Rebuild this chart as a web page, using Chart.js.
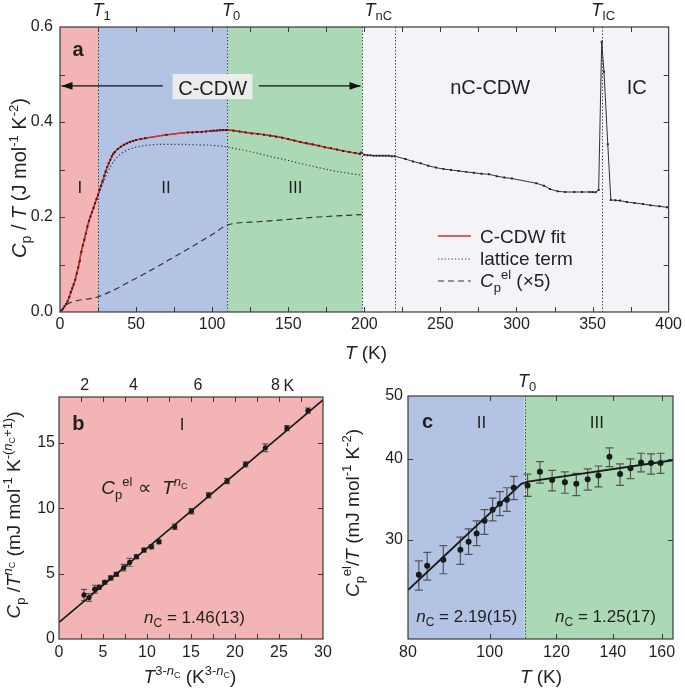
<!DOCTYPE html>
<html><head><meta charset="utf-8">
<script src="https://cdn.jsdelivr.net/npm/chart.js@4.4.1/dist/chart.umd.min.js"></script>
<style>
html,body{margin:0;padding:0;background:#fff;}
#wrap{position:relative;width:685px;height:690px;overflow:hidden;}
canvas{position:absolute;}
</style></head><body>
<div id="wrap">
<canvas id="ca" width="685" height="370" style="left:0;top:0"></canvas>
<canvas id="cb" width="340" height="345" style="left:0;top:345px"></canvas>
<canvas id="cc" width="345" height="345" style="left:340px;top:345px"></canvas>
</div>
<script>
// ---------- Panel a data ----------
const aDataT = [1,2,3,4,5,6,7,8,9,10,
 11,12,13,14,15,16,17,18,19,20,
 21,22,23,24,25,26,27,28,29,30,
 31,32,33,34,35,36,38,40,42,44,
 46,48,50,53,56,70,84,87,90,93,
 96,99,101,103,105,107,109,110,114,118,
 122,126,130,134,138,142,146,150,154,158,
 162,166,170,174,178,182,186,190,194,197,
 198,200,202,204,206,208,210,212,214,216,
 218,220,227,232,237,242,247,252,257,262,
 267,272,277,282,287,292,297,313,318,322,
 327,332,338,343,348,350,352,354,356,357.5,
 360,362,365,368,372.5,377.6,383,388,394,399];
const aDataV = [.003,.007,.012,.017,.022,.031,.042,.050,.058,.068,
 .081,.094,.107,.127,.140,.152,.165,.180,.192,.201,
 .210,.219,.229,.238,.247,.257,.266,.276,.287,.296,
 .305,.313,.320,.328,.333,.337,.343,.348,.352,.355,
 .358,.360,.362,.364,.366,.373,.378,.378,.379,.379,
 .380,.381,.382,.382,.383,.383,.383,.383,.382,.380,
 .378,.376,.375,.373,.371,.369,.367,.364,.361,.358,
 .356,.353,.350,.347,.345,.342,.339,.337,.335,.333,
 .336,.331,.330,.330,.329,.329,.329,.329,.329,.329,
 .328,.328,.322,.317,.313,.308,.304,.301,.299,.297,
 .295,.293,.291,.290,.286,.283,.281,.271,.266,.259,
 .254,.2526,.2526,.2526,.2526,.2524,.252,.2568,.569,.506,
 .353,.2358,.2351,.2345,.2316,.2295,.2274,.2246,.2225,.2204];
const aFitT = [0,2,5,8,10,12,14,16,18,20,22,25,28,30,33,36,40,45,50,60,70,80,90,100,110,120,130,140,150,160,170,180,190,198];
const aFitV = [0,.007,.022,.05,.068,.094,.127,.152,.18,.201,.219,.247,.276,.296,.32,.337,.348,.357,.362,.368,.373,.377,.379,.381,.383,.379,.375,.371,.364,.356,.35,.343,.337,.332];
const aLatT = [0,5,10,15,20,25,28,30,33,36,40,45,50,60,70,80,90,100,110,120,130,140,150,160,170,180,190,198];
const aLatV = [0,.022,.067,.14,.2,.246,.27,.285,.305,.32,.333,.342,.347,.352,.353,.353,.352,.351,.347,.341,.334,.326,.319,.311,.304,.297,.292,.288];
const aElT = [0,3,7,25,50,75,100,110,130,150,170,198];
const aElV = [0,.012,.02,.032,.071,.116,.163,.183,.19,.195,.2,.205];
const aRegionEdges = [0,25,110,198.5,400];
const aTransitions = [25,110,198.5,220,356];
const aXTicks = [0,50,100,150,200,250,300,350,400];
const aYTicks = [0,0.2,0.4,0.6];

// ---------- Panel b data ----------
const bNc = 1.46;
const bX = [2.84,3.41,4.06,4.55,5.19,5.88,6.52,7.35,8.03,8.8,9.66,10.5,11.36,13.15,15.04,17.0,19.1,21.2,23.45,25.9,28.3];
const bY = [3.37,3.17,3.81,3.96,4.34,4.67,4.95,5.45,5.86,6.29,6.80,7.05,7.43,8.58,9.77,10.99,12.08,13.35,14.62,16.12,17.46];
const bErr = [0.43,0.3,0.3,0.15,0.15,0.15,0.15,0.25,0.3,0.15,0.15,0.15,0.15,0.2,0.2,0.2,0.2,0.2,0.3,0.2,0.2];
const bFitX = [0,30];
const bFitY = [1.27,18.28];
const bXTicks = [0,5,10,15,20,25,30];
const bYTicks = [0,5,10,15];
const bTopT = [2,4,6,8];
const bTopLabels = ['2','4','6','8'];

// ---------- Panel c data ----------
const cT = [82.4,84.3,88.1,92.3,94.4,96.5,98.6,100.8,102.8,104.8,106.8,110.9,114.7,118.6,122.8,126.7,130.7,134.6,138.7,142.8,146.9,151.2,155.4,159.5];
const cV = [26.5,27.36,27.95,28.96,29.8,30.7,32.1,33.4,34.1,34.6,36.1,36.4,38.2,37.1,36.8,36.6,37.2,37.7,40.3,37.9,38.7,39.5,39.4,39.4];
const cHi = [27.85,28.7,29.4,30.3,31.2,32.1,33.4,34.8,35.6,36.1,37.6,37.9,39.6,38.4,38.2,38.0,38.6,39.0,41.6,39.3,40.0,40.8,40.7,40.8];
const cLo = [25.1,26.0,26.6,27.5,28.5,29.4,30.6,32.1,32.7,33.2,34.6,35.0,36.7,35.7,35.4,35.1,35.8,36.2,38.9,36.4,37.3,38.2,37.9,38.0];
const cFitT = [80,109,111,165];
const cFitV = [25.1,36.6,36.9,39.8];
const cRegionEdges = [80,110,165];
const cXTicks = [80,100,120,140,160];
const cYTicks = [30,40,50];

// ---------- helpers ----------
const FONT = "'Liberation Sans', Arial, Helvetica, sans-serif";
const INK = '#231f20';
const PINK = '#f2b4b4', BLUE = '#b3c3e4', GREEN = '#acd9b5', GREY = '#f3f3f8';
Chart.defaults.font.family = FONT;
Chart.defaults.color = INK;
const pts = (xs, ys) => xs.map((x, i) => ({x, y: ys[i]}));
const P = (t, s, st, dy) => ({t, s, st: st || '', dy: dy || 0});
const fnt = p => (p.st === 'i' ? 'italic ' : p.st === 'b' ? 'bold ' : '') + p.s + 'px ' + FONT;
function rich(ctx, parts, x, y, align, rot) {
  ctx.save(); ctx.translate(x, y); if (rot) ctx.rotate(rot);
  let w = 0;
  for (const p of parts) { ctx.font = fnt(p); p.w = ctx.measureText(p.t).width; w += p.w; }
  let cx = align === 'left' ? 0 : align === 'right' ? -w : -w / 2;
  ctx.fillStyle = INK; ctx.textBaseline = 'alphabetic'; ctx.textAlign = 'left';
  for (const p of parts) { ctx.font = fnt(p); ctx.fillText(p.t, cx, p.dy); cx += p.w; }
  ctx.restore();
}
function frame(ctx, ca) {
  ctx.save(); ctx.strokeStyle = '#3a3a3a'; ctx.lineWidth = 1.2;
  ctx.strokeRect(ca.left, ca.top, ca.width, ca.height); ctx.restore();
}
function xTicksIn(ctx, ca, sc, vals, len) {
  ctx.save(); ctx.strokeStyle = '#3a3a3a'; ctx.lineWidth = 1; ctx.beginPath();
  for (const v of vals) { const p = Math.round(sc.getPixelForValue(v)) + 0.5;
    ctx.moveTo(p, ca.bottom); ctx.lineTo(p, ca.bottom - len);
    ctx.moveTo(p, ca.top); ctx.lineTo(p, ca.top + len); }
  ctx.stroke(); ctx.restore();
}
function yTicksIn(ctx, ca, sc, vals, len) {
  ctx.save(); ctx.strokeStyle = '#3a3a3a'; ctx.lineWidth = 1; ctx.beginPath();
  for (const v of vals) { const p = Math.round(sc.getPixelForValue(v)) + 0.5;
    ctx.moveTo(ca.left, p); ctx.lineTo(ca.left + len, p);
    ctx.moveTo(ca.right, p); ctx.lineTo(ca.right - len, p); }
  ctx.stroke(); ctx.restore();
}
function vDotted(ctx, ca, sc, vals) {
  ctx.save(); ctx.strokeStyle = '#333'; ctx.lineWidth = 1; ctx.setLineDash([1.3, 2]);
  ctx.beginPath();
  for (const v of vals) { const p = Math.round(sc.getPixelForValue(v)) + 0.5;
    ctx.moveTo(p, ca.top); ctx.lineTo(p, ca.bottom); }
  ctx.stroke(); ctx.restore();
}
function errBars(ctx, xs, ys, lo, hi, sx, sy, cap) {
  ctx.save(); ctx.strokeStyle = '#555'; ctx.lineWidth = 1.2; ctx.beginPath();
  xs.forEach((x, i) => {
    const px = sx.getPixelForValue(x), p1 = sy.getPixelForValue(lo[i]), p2 = sy.getPixelForValue(hi[i]);
    ctx.moveTo(px, p1); ctx.lineTo(px, p2);
    ctx.moveTo(px - cap, p1); ctx.lineTo(px + cap, p1);
    ctx.moveTo(px - cap, p2); ctx.lineTo(px + cap, p2);
  });
  ctx.stroke(); ctx.restore();
}
function arrow(ctx, x1, x2, y) {
  ctx.save(); ctx.strokeStyle = '#111'; ctx.fillStyle = '#111'; ctx.lineWidth = 1.2;
  ctx.beginPath(); ctx.moveTo(x1, y); ctx.lineTo(x2, y); ctx.stroke();
  const d = x2 > x1 ? 1 : -1;
  ctx.beginPath(); ctx.moveTo(x2, y); ctx.lineTo(x2 - d * 11, y - 3.8); ctx.lineTo(x2 - d * 11, y + 3.8); ctx.closePath(); ctx.fill();
  ctx.restore();
}
const fixTicks = vals => s => { s.ticks = vals.map(v => ({value: v})); };
const baseOpts = () => ({responsive: false, animation: false, events: [],
  plugins: {legend: {display: false}, tooltip: {enabled: false}}});
const axisStyle = (pad) => ({grid: {display: false, drawTicks: false}, border: {display: false},
  ticks: {font: {size: 16}, color: INK, padding: pad, autoSkip: false, maxRotation: 0}});

// ---------- Panel a ----------
const panelA = {
  id: 'panelA',
  beforeDatasetsDraw(chart) {
    const {ctx, chartArea: ca, scales: {x, y}} = chart;
    const cols = [PINK, BLUE, GREEN, GREY];
    for (let i = 0; i < aRegionEdges.length - 1; i++) {
      const x1 = x.getPixelForValue(aRegionEdges[i]), x2 = x.getPixelForValue(aRegionEdges[i + 1]);
      ctx.fillStyle = cols[i]; ctx.fillRect(x1, ca.top, x2 - x1, ca.height);
    }
    vDotted(ctx, ca, x, aTransitions);
    // C-CDW box and arrows
    const bx1 = x.getPixelForValue(74), bx2 = x.getPixelForValue(126.5);
    const by1 = y.getPixelForValue(0.501), by2 = y.getPixelForValue(0.448);
    ctx.fillStyle = '#ececec'; ctx.fillRect(bx1, by1, bx2 - bx1, by2 - by1);
    const ay = y.getPixelForValue(0.476);
    arrow(ctx, x.getPixelForValue(67.6), x.getPixelForValue(1), ay);
    arrow(ctx, x.getPixelForValue(130.7), x.getPixelForValue(197.5), ay);
    rich(ctx, [P('C-CDW', 20)], x.getPixelForValue(100.3), y.getPixelForValue(0.457), 'center');
  },
  afterDraw(chart) {
    const {ctx, chartArea: ca, scales: {x, y}} = chart;
    frame(ctx, ca);
    xTicksIn(ctx, ca, x, [25,50,75,100,125,150,175,200,225,250,275,300,325,350,375], 5);
    yTicksIn(ctx, ca, y, [0.1,0.2,0.3,0.4,0.5], 5);
    // region labels
    rich(ctx, [P('a', 20, 'b')], x.getPixelForValue(11.8), y.getPixelForValue(0.539), 'center');
    rich(ctx, [P('I', 17)], x.getPixelForValue(13), y.getPixelForValue(0.25), 'center');
    rich(ctx, [P('II', 17)], x.getPixelForValue(69.7), y.getPixelForValue(0.25), 'center');
    rich(ctx, [P('III', 17)], x.getPixelForValue(154.7), y.getPixelForValue(0.25), 'center');
    rich(ctx, [P('nC-CDW', 20)], x.getPixelForValue(282.7), y.getPixelForValue(0.46), 'center');
    rich(ctx, [P('IC', 20)], x.getPixelForValue(379), y.getPixelForValue(0.46), 'center');
    // legend
    const lx1 = x.getPixelForValue(248.4), lx2 = x.getPixelForValue(270), tx = x.getPixelForValue(276);
    const rows = [0.16, 0.1116, 0.0653].map(v => y.getPixelForValue(v));
    ctx.save(); ctx.lineWidth = 1.5;
    ctx.strokeStyle = '#e0282d'; ctx.beginPath(); ctx.moveTo(lx1, rows[0]); ctx.lineTo(lx2, rows[0]); ctx.stroke();
    ctx.strokeStyle = '#333'; ctx.lineWidth = 1.2; ctx.setLineDash([1.2, 2.2]);
    ctx.beginPath(); ctx.moveTo(lx1, rows[1]); ctx.lineTo(lx2, rows[1]); ctx.stroke();
    ctx.setLineDash([6, 4]); ctx.beginPath(); ctx.moveTo(lx1, rows[2]); ctx.lineTo(lx2, rows[2]); ctx.stroke();
    ctx.restore();
    rich(ctx, [P('C-CDW fit', 19)], tx, rows[0] + 6.5, 'left');
    rich(ctx, [P('lattice term', 19)], tx, rows[1] + 6.5, 'left');
    rich(ctx, [P('C', 19, 'i'), P('p', 13, '', 5), P('el', 13, '', -8), P(' (\u00d75)', 19)], tx, rows[2] + 6.5, 'left');
    // top transition labels
    const tl = (val, sub, dx) => {
      const px = x.getPixelForValue(val) + (dx || 0);
      ctx.save(); ctx.font = fnt(P('T', 18, 'i')); const w = ctx.measureText('T').width; ctx.restore();
      rich(ctx, [P('T', 18, 'i'), P(sub, 13, '', 4)], px - w / 2, 16, 'left');
    };
    tl(25, '1'); tl(110, '0'); tl(198.5, 'nC', 8); tl(356, 'IC', -5);
    // axis titles
    rich(ctx, [P('T', 19, 'i'), P(' (K)', 19)], 366, 359, 'center');
    rich(ctx, [P('C', 20, 'i'), P('p', 14, '', 5), P(' / ', 20), P('T', 20, 'i'), P(' (J mol', 20), P('-1', 13, '', -8), P(' K', 20), P('-2', 13, '', -8), P(')', 20)],
      26, 178, 'center', -Math.PI / 2);
  }
};
new Chart(document.getElementById('ca'), {
  type: 'scatter',
  data: {datasets: [
    {data: pts(aDataT, aDataV), showLine: false, pointStyle: 'rect', pointRadius: 1.4, pointBackgroundColor: '#222', pointBorderWidth: 0},
    {data: pts(aFitT, aFitV), showLine: true, borderColor: '#e0282d', borderWidth: 1.6, pointRadius: 0, cubicInterpolationMode: 'monotone'},
    {data: pts(aDataT, aDataV), showLine: true, borderColor: '#333', borderWidth: 1, pointRadius: 0},
    {data: pts(aLatT, aLatV), showLine: true, borderColor: '#333', borderWidth: 1.2, borderDash: [1.2, 2.4], pointRadius: 0, cubicInterpolationMode: 'monotone'},
    {data: pts(aElT, aElV), showLine: true, borderColor: '#333', borderWidth: 1.2, borderDash: [6, 4], pointRadius: 0, cubicInterpolationMode: 'monotone'}
  ]},
  options: Object.assign(baseOpts(), {
    layout: {padding: {top: 27, right: 13, left: 0, bottom: 0}},
    scales: {
      x: Object.assign(axisStyle(3), {type: 'linear', min: 0, max: 400, afterBuildTicks: fixTicks(aXTicks), afterFit: s => { s.height = 58; }}),
      y: Object.assign(axisStyle(7), {type: 'linear', min: 0, max: 0.6, afterBuildTicks: fixTicks(aYTicks), afterFit: s => { s.width = 60; }})
    }
  }),
  plugins: [panelA]
});
// fix y tick label format
Chart.getChart('ca').options.scales.y.ticks.callback = v => v.toFixed(1);
Chart.getChart('ca').update();

// ---------- Panel b ----------
const panelB = {
  id: 'panelB',
  beforeDatasetsDraw(chart) {
    const {ctx, chartArea: ca, scales: {x, y}} = chart;
    ctx.fillStyle = PINK; ctx.fillRect(ca.left, ca.top, ca.width, ca.height);
    errBars(ctx, bX, bY, bY.map((v, i) => v - bErr[i]), bY.map((v, i) => v + bErr[i]), x, y, 3);
  },
  afterDraw(chart) {
    const {ctx, chartArea: ca, scales: {x, y, x2}} = chart;
    frame(ctx, ca);
    xTicksIn(ctx, ca, x, [2.5,5,7.5,10,12.5,15,17.5,20,22.5,25,27.5], 5);
    yTicksIn(ctx, ca, y, [5,10,15], 5);
    rich(ctx, [P('b', 20, 'b')], x.getPixelForValue(2.2), y.getPixelForValue(15.94), 'center');
    rich(ctx, [P('I', 17)], x.getPixelForValue(14), y.getPixelForValue(16.0), 'center');
    rich(ctx, [P('C', 19, 'i'), P('p', 13, '', 5), P('el', 13, '', -8), P(' \u221d  ', 19), P('T', 19, 'i'), P('n', 13, 'i', -8), P('C', 9, '', -5)],
      x.getPixelForValue(4.8), y.getPixelForValue(11.1), 'left');
    rich(ctx, [P('n', 17, 'i'), P('C', 12, '', 4), P(' = 1.46(13)', 17)], x.getPixelForValue(15.4), y.getPixelForValue(1.26), 'center');
    // "K" after the last top tick label
    const k = bTopT[bTopT.length - 1];
    rich(ctx, [P('K', 16)], x2.getPixelForValue(Math.pow(k, 3 - bNc)) + 8, 46, 'left');
    // axis titles
    rich(ctx, [P('T', 19, 'i'), P('3-', 13, '', -8), P('n', 13, 'i', -8), P('C', 9, '', -5), P(' (K', 19), P('3-', 13, '', -8), P('n', 13, 'i', -8), P('C', 9, '', -5), P(')', 19)],
      190, 338, 'center');
    rich(ctx, [P('C', 19, 'i'), P('p', 13, '', 5), P(' /', 19), P('T', 19, 'i'), P('n', 13, 'i', -8), P('C', 9, '', -5), P(' (mJ mol', 19), P('-1', 13, '', -8), P(' K', 19), P('-(', 13, '', -8), P('n', 13, 'i', -8), P('C', 9, '', -5), P('+1)', 13, '', -8), P(')', 19)],
      20, 170, 'center', -Math.PI / 2);
  }
};
new Chart(document.getElementById('cb'), {
  type: 'scatter',
  data: {datasets: [
    {data: pts(bX, bY), showLine: false, pointRadius: 2.6, pointBackgroundColor: '#1a1a1a', pointBorderWidth: 0},
    {data: pts(bFitX, bFitY), showLine: true, borderColor: '#1a1a1a', borderWidth: 1.6, pointRadius: 0}
  ]},
  options: Object.assign(baseOpts(), {
    layout: {padding: {top: 0, right: 17, left: 0, bottom: 0}},
    scales: {
      x: Object.assign(axisStyle(4), {type: 'linear', position: 'bottom', min: 0, max: 30, afterBuildTicks: fixTicks(bXTicks), afterFit: s => { s.height = 51; }}),
      x2: Object.assign(axisStyle(2), {type: 'linear', position: 'top', min: 0, max: 30,
        afterBuildTicks: s => { s.ticks = bTopT.map(t => ({value: Math.pow(t, 3 - bNc)})); },
        afterFit: s => { s.height = 52; }}),
      y: Object.assign(axisStyle(4), {type: 'linear', min: 0, max: 18.5, afterBuildTicks: fixTicks(bYTicks), afterFit: s => { s.width = 59; }})
    }
  }),
  plugins: [panelB]
});
Chart.getChart('cb').options.scales.x2.ticks.callback = (v, i) => bTopLabels[i];
Chart.getChart('cb').update();

// ---------- Panel c ----------
const panelC = {
  id: 'panelC',
  beforeDatasetsDraw(chart) {
    const {ctx, chartArea: ca, scales: {x, y}} = chart;
    const cols = [BLUE, GREEN];
    for (let i = 0; i < cRegionEdges.length - 1; i++) {
      const x1 = x.getPixelForValue(cRegionEdges[i]), x2 = x.getPixelForValue(cRegionEdges[i + 1]);
      ctx.fillStyle = cols[i]; ctx.fillRect(x1, ca.top, x2 - x1, ca.height);
    }
    vDotted(ctx, ca, x, [110]);
    errBars(ctx, cT, cV, cLo, cHi, x, y, 4);
  },
  afterDraw(chart) {
    const {ctx, chartArea: ca, scales: {x, y}} = chart;
    frame(ctx, ca);
    xTicksIn(ctx, ca, x, [100,120,140,160], 5);
    yTicksIn(ctx, ca, y, [30,40], 5);
    rich(ctx, [P('c', 20, 'b')], x.getPixelForValue(84.4), y.getPixelForValue(44.7), 'center');
    rich(ctx, [P('II', 17)], x.getPixelForValue(97.8), y.getPixelForValue(44.7), 'center');
    rich(ctx, [P('III', 17)], x.getPixelForValue(134), y.getPixelForValue(44.7), 'center');
    rich(ctx, [P('n', 17, 'i'), P('C', 12, '', 4), P(' = 2.19(15)', 17)], x.getPixelForValue(93.9), y.getPixelForValue(22.4), 'center');
    rich(ctx, [P('n', 17, 'i'), P('C', 12, '', 4), P(' = 1.25(17)', 17)], x.getPixelForValue(137.2), y.getPixelForValue(22.4), 'center');
    ctx.save(); ctx.font = fnt(P('T', 18, 'i')); const w = ctx.measureText('T').width; ctx.restore();
    rich(ctx, [P('T', 18, 'i'), P('0', 13, '', 4)], x.getPixelForValue(110) - w / 2 - 1, 41.7, 'left');
    rich(ctx, [P('T', 19, 'i'), P(' (K)', 19)], 201, 338, 'center');
    rich(ctx, [P('C', 19, 'i'), P('p', 13, '', 5), P('el', 13, '', -8), P('/', 19), P('T', 19, 'i'), P(' (mJ mol', 19), P('-1', 13, '', -8), P(' K', 19), P('-2', 13, '', -8), P(')', 19)],
      19, 168, 'center', -Math.PI / 2);
  }
};
new Chart(document.getElementById('cc'), {
  type: 'scatter',
  data: {datasets: [
    {data: pts(cT, cV), showLine: false, pointRadius: 3, pointBackgroundColor: '#1a1a1a', pointBorderWidth: 0},
    {data: pts(cFitT, cFitV), showLine: true, borderColor: '#1a1a1a', borderWidth: 1.8, pointRadius: 0}
  ]},
  options: Object.assign(baseOpts(), {
    layout: {padding: {top: 51, right: 12, left: 0, bottom: 0}},
    scales: {
      x: Object.assign(axisStyle(4), {type: 'logarithmic', min: 80, max: 165, afterBuildTicks: fixTicks(cXTicks), afterFit: s => { s.height = 51; }}),
      y: Object.assign(axisStyle(5), {type: 'logarithmic', min: 21.1, max: 50, afterBuildTicks: fixTicks(cYTicks), afterFit: s => { s.width = 68; }})
    }
  }),
  plugins: [panelC]
});
Chart.getChart('cc').options.scales.x.ticks.callback = v => String(Math.round(v));
Chart.getChart('cc').options.scales.y.ticks.callback = v => String(Math.round(v));
Chart.getChart('cc').update();
</script>
</body></html>
